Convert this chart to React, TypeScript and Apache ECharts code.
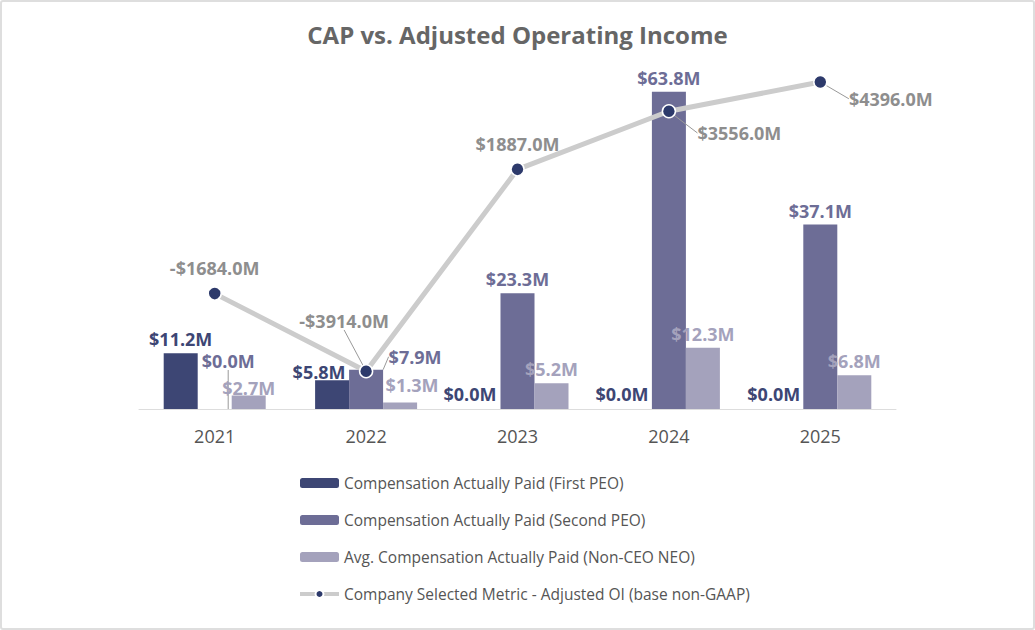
import React, { useEffect, useRef } from "react";
import * as echarts from "echarts";

const years = ["2021", "2022", "2023", "2024", "2025"];
const firstPEO = [11.2, 5.8, 0, 0, 0];
const secondPEO = [0, 7.9, 23.3, 63.8, 37.1];
const nonCEO = [2.7, 1.3, 5.2, 12.3, 6.8];
const adjustedOI = [-1684, -3914, 1887, 3556, 4396];
const seriesNames = [
  "Compensation Actually Paid (First PEO)",
  "Compensation Actually Paid (Second PEO)",
  "Avg. Compensation Actually Paid (Non-CEO NEO)",
  "Company Selected Metric - Adjusted OI (base non-GAAP)",
];
const titleText = "CAP vs. Adjusted Operating Income";

// label nudges (dx, dy) from the default label spot, and which labels get a leader line
const firstNudge = [[0, 0], [-13, 6], [-13.5, -1], [-13, -1], [-12.5, -1]];
const secondNudge = [[13.5, -34], [49, 1], [0, 0], [0, 0], [0, 0]];
const nonNudge = [[0, 6], [12, -4], [0, 0], [0, 0], [0, 0]];
const lineNudge = [[0, 0], [-22, -25], [0, 0], [70.5, 47], [70.5, 42]];
const secondLeader = [true, true, false, false, false];
const lineLeader = [false, true, false, true, true];

const FONT = "'Open Sans', 'Noto Sans', sans-serif";
const C1 = "#3d4674";
const C2 = "#6d6d96";
const C3 = "#a4a2bc";
const LINE = "#cccccc";
const DOT = "#2d3a6b";

const money = (v: number) => (v < 0 ? "-$" + Math.abs(v).toFixed(1) + "M" : "$" + v.toFixed(1) + "M");

const nudger = (arr: number[][]) => (p: any) => {
  const o = arr[p.dataIndex] || [0, 0];
  return { dx: o[0], dy: o[1] };
};

export default function App() {
  const ref = useRef<HTMLDivElement>(null);
  useEffect(() => {
    document.body.style.margin = "0";
    if (!ref.current) return;
    const chart = echarts.init(ref.current, undefined, { renderer: "svg" });
    const barLabel = (color: string) => ({
      show: true,
      position: "top",
      distance: 5,
      color,
      fontFamily: FONT,
      fontSize: 18,
      fontWeight: "bold",
      formatter: (p: any) => money(p.value),
    });
    const leaderStyle = { color: "#999999", width: 1 };
    chart.setOption({
      animation: false,
      backgroundColor: "#ffffff",
      textStyle: { fontFamily: FONT },
      title: {
        text: titleText,
        left: "center",
        top: 17,
        textStyle: { color: "#666666", fontSize: 24, fontWeight: "bold", fontFamily: FONT },
      },
      legend: {
        orient: "vertical",
        left: 293,
        top: 470,
        itemWidth: 39,
        itemHeight: 10,
        itemGap: 21,
        textStyle: { color: "#555555", fontSize: 15.5, fontFamily: FONT },
        data: [
          { name: seriesNames[0] },
          { name: seriesNames[1] },
          { name: seriesNames[2] },
          { name: seriesNames[3], lineStyle: { width: 4, color: LINE } },
        ],
      },
      grid: { left: 139, right: 139, top: 61, bottom: 221 },
      xAxis: {
        type: "category",
        data: years,
        axisLine: { lineStyle: { color: "#dddddd", width: 1 } },
        axisTick: { show: false },
        axisLabel: { color: "#555555", fontSize: 18, margin: 18, fontFamily: FONT },
      },
      yAxis: [
        { type: "value", min: 0, max: 70, show: false, splitLine: { show: false } },
        { type: "value", min: -5000, max: 5000, show: false, splitLine: { show: false } },
      ],
      series: [
        {
          name: seriesNames[0],
          type: "bar",
          barWidth: 34,
          barGap: "0%",
          itemStyle: { color: C1 },
          label: barLabel(C1),
          labelLayout: nudger(firstNudge),
          data: firstPEO,
        },
        {
          name: seriesNames[1],
          type: "bar",
          barWidth: 34,
          barGap: "0%",
          itemStyle: { color: C2 },
          label: barLabel(C2),
          labelLayout: nudger(secondNudge),
          data: secondPEO.map((v, i) => ({
            value: v,
            labelLine: { show: secondLeader[i], lineStyle: leaderStyle },
          })),
        },
        {
          name: seriesNames[2],
          type: "bar",
          barWidth: 34,
          barGap: "0%",
          itemStyle: { color: C3 },
          label: barLabel(C3),
          labelLayout: nudger(nonNudge),
          data: nonCEO,
        },
        {
          name: seriesNames[3],
          type: "line",
          yAxisIndex: 1,
          z: 5,
          symbol: "circle",
          symbolSize: 13,
          lineStyle: { color: LINE, width: 5 },
          itemStyle: { color: DOT, borderColor: "#ffffff", borderWidth: 1.5 },
          label: {
            show: true,
            position: "top",
            distance: 9,
            color: "#8e8e8e",
            fontFamily: FONT,
            fontSize: 18,
            fontWeight: "bold",
            formatter: (p: any) => money(p.value),
          },
          labelLayout: nudger(lineNudge),
          data: adjustedOI.map((v, i) => ({
            value: v,
            labelLine: { show: lineLeader[i], lineStyle: leaderStyle },
          })),
        },
      ],
    });
    return () => chart.dispose();
  }, []);
  return (
    <div style={{ position: "relative", width: 1035, height: 630 }}>
      <div ref={ref} style={{ width: 1035, height: 630 }} />
      <div
        style={{
          position: "absolute",
          left: 0,
          top: 0,
          width: 1035,
          height: 630,
          boxSizing: "border-box",
          border: "2px solid #dedede",
          borderRadius: 3,
          pointerEvents: "none",
        }}
      />
    </div>
  );
}
